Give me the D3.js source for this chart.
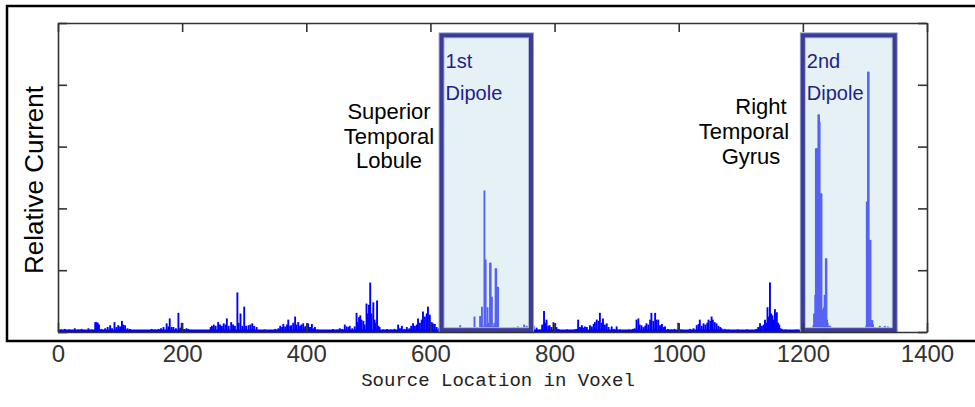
<!DOCTYPE html>
<html>
<head>
<meta charset="utf-8">
<script src="https://cdn.jsdelivr.net/npm/d3@7"></script>
<style>
    body { margin: 0; background: #fff; }
    svg { display: block; }
</style>
</head>
<body>
<svg id="chart" width="975" height="407"></svg>
<script>
// values: [voxel, relative current]
const xTicks = [0, 200, 400, 600, 800, 1000, 1200, 1400];
const yTicks = [0, 1, 2, 3, 4, 5];

const noise = [
    [5,0.04],[11,0.05],[18,0.04],[27,0.06],[33,0.04],[38,0.05],[44,0.03],[49,0.06],[55,0.04],
    [60,0.16],[62,0.16],[64,0.15],[66,0.12],[70,0.05],[76,0.06],[80,0.08],[84,0.11],[87,0.06],
    [91,0.16],[94,0.08],[97,0.11],[100,0.09],[103,0.18],[105,0.12],[108,0.11],[112,0.06],[116,0.05],
    [120,0.03],[151,0.05],[156,0.04],[162,0.05],[166,0.06],[170,0.08],[175,0.14],[178,0.09],
    [180,0.22],[183,0.08],[186,0.08],[190,0.06],[194,0.31],[197,0.07],[203,0.05],[207,0.06],
    [210,0.05],[246,0.08],[248,0.1],[251,0.12],[254,0.1],[258,0.16],[261,0.12],[264,0.1],
    [267,0.14],[270,0.12],[272,0.22],[275,0.1],[279,0.16],[282,0.12],[285,0.1],[289,0.64],
    [291,0.15],[294,0.3],[297,0.1],[300,0.41],[303,0.1],[307,0.11],[310,0.12],[313,0.14],
    [316,0.1],[320,0.08],[325,0.03],[333,0.04],[340,0.03],[350,0.05],[355,0.06],[358,0.1],
    [361,0.08],[363,0.13],[366,0.09],[369,0.12],[371,0.2],[374,0.1],[376,0.11],[379,0.15],
    [382,0.25],[384,0.12],[387,0.16],[390,0.1],[392,0.12],[395,0.14],[398,0.09],[400,0.1],
    [403,0.14],[406,0.08],[409,0.13],[412,0.06],[414,0.08],[418,0.04],[430,0.03],[443,0.05],
    [450,0.04],[454,0.06],[458,0.05],[462,0.12],[465,0.09],[468,0.08],[470,0.1],[474,0.06],
    [478,0.09],[481,0.31],[483,0.16],[485,0.24],[487,0.27],[489,0.2],[492,0.18],[494,0.12],
    [497,0.46],[499,0.3],[501,0.44],[503,0.8],[505,0.3],[508,0.48],[510,0.2],[511,0.15],
    [514,0.51],[516,0.1],[518,0.08],[524,0.04],[530,0.05],[536,0.04],[542,0.05],[548,0.12],
    [551,0.06],[554,0.1],[558,0.05],[562,0.08],[566,0.06],[569,0.1],[572,0.14],[575,0.1],
    [578,0.12],[580,0.22],[583,0.15],[586,0.2],[588,0.33],[591,0.25],[594,0.3],[596,0.41],
    [599,0.28],[602,0.16],[604,0.14],[607,0.13],[610,0.08],[614,0.06],
    [622,0.05],[628,0.04],[635,0.06],[642,0.05],[648,0.11],[656,0.05],[662,0.04],[671,0.25],
    [675,0.08],[680,0.26],[683,0.41],[685,0.1],[711,0.05],[716,0.04],[722,0.05],[728,0.04],
    [735,0.08],[741,0.09],[746,0.07],[751,0.12],[755,0.1],[758,0.08],
    [766,0.1],[771,0.07],[776,0.04],[780,0.12],[783,0.34],[785,0.15],[787,0.2],[790,0.1],
    [792,0.11],[795,0.08],[801,0.14],[803,0.08],[806,0.05],[812,0.03],[820,0.04],
    [826,0.03],[832,0.04],[835,0.05],[838,0.2],[841,0.08],[844,0.11],[846,0.07],[849,0.09],
    [852,0.08],[857,0.11],[860,0.09],[863,0.13],[865,0.16],[868,0.2],[871,0.18],[873,0.31],
    [876,0.15],[878,0.22],[881,0.12],[884,0.14],[887,0.08],[892,0.09],[896,0.05],[900,0.09],
    [905,0.04],[912,0.03],[920,0.04],[926,0.05],[929,0.06],[932,0.2],[935,0.22],[937,0.12],
    [940,0.11],[943,0.08],[946,0.1],[948,0.14],[951,0.12],[954,0.2],[956,0.31],[959,0.18],
    [962,0.31],[964,0.2],[967,0.2],[970,0.11],[973,0.13],[976,0.08],[978,0.09],[983,0.05],
    [988,0.04],[993,0.05],[1004,0.04],[1010,0.03],[1018,0.05],[1024,0.06],[1029,0.11],
    [1032,0.13],[1034,0.2],[1037,0.1],[1040,0.14],[1043,0.12],[1046,0.15],[1048,0.2],
    [1051,0.18],[1053,0.25],[1055,0.2],[1058,0.16],[1061,0.14],[1064,0.1],[1067,0.08],
    [1069,0.06],[1074,0.05],[1080,0.04],[1086,0.03],[1095,0.04],[1102,0.03],[1110,0.04],
    [1118,0.03],[1125,0.05],[1128,0.08],[1131,0.14],[1134,0.1],[1137,0.12],[1139,0.2],
    [1141,0.15],[1143,0.4],[1145,0.25],[1147,0.8],[1149,0.3],[1151,0.27],[1153,0.2],
    [1155,0.37],[1157,0.3],[1158,0.32],[1160,0.15],[1162,0.12],[1164,0.06],[1166,0.05],
    [1172,0.04],[1180,0.03],[1190,0.04],
    [1205,0.04],[1211,0.03],[1217,0.11],[1244,0.1],[1250,0.04],[1258,0.03],[1266,0.04],
    [1275,0.03],[1284,0.04],[1292,0.03],[1298,0.05],[1302,0.1],[1315,0.08],[1324,0.1],
    [1330,0.05],[1332,0.1],[1337,0.09],[1342,0.04],[1350,0.03]
];

const dipole1 = [
    [687,2.29],[688,1.17],[689,1.17],[690,0.12],[692,0.4],[694,0.15],[696,1.12],[697,1.12],
    [698,0.57],[699,0.57],[701,0.1],[703,0.15],[705,1.03],[706,1.03],[708,0.73],[709,0.73]
];

const dipole2 = [
    [1218,0.3],[1220,0.6],[1221,2.97],[1222,2.97],[1223,2.97],[1224,2.97],[1225,3.52],
    [1226,3.52],[1227,3.4],[1228,2.24],[1229,2.24],[1230,2.24],[1231,0.36],[1232,0.36],
    [1233,0.36],[1234,0.4],[1235,0.6],[1236,0.6],[1237,1.19],[1238,1.19],[1239,0.2],
    [1240,0.15],[1242,0.1],
    [1303,2.11],[1304,2.11],[1305,4.21],[1306,4.21],[1307,1.49],[1308,1.49],[1309,1.49],
    [1310,0.19],[1311,0.19],[1312,0.19],[1313,0.12]
];

const darkSpikes = [[199,0.15],[798,0.16],[999,0.15]];

const baseLevel = 0.02;
const signalEnd = 1352;

const boxStart = [618, 1200];
const boxEnd = [762, 1348];
const boxTop = 4.8;
const boxBottom = 0.03;
const boxLabels = ["1st", "2nd"];

let margin = {top: 23, right: 48, bottom: 75, left: 58};
let width = 975 - margin.left - margin.right;
let height = 407 - margin.top - margin.bottom;

let svg = d3.select("#chart");

// outer frame of the figure (right edge falls outside the picture)
svg.append("rect")
    .attr("x", 7)
    .attr("y", 6)
    .attr("width", 990)
    .attr("height", 335)
    .attr("fill", "#fff")
    .attr("stroke", "#000")
    .attr("stroke-width", 2.5);

let g = svg.append("g")
    .attr("transform", "translate(" + margin.left + "," + margin.top + ")");

let x = d3.scaleLinear().domain([0, 1400]).range([0, width]);
let y = d3.scaleLinear().domain([0, 5]).range([height, 0]);

// baseline of the trace
g.append("line")
    .attr("x1", x(0))
    .attr("x2", x(signalEnd))
    .attr("y1", y(baseLevel))
    .attr("y2", y(baseLevel))
    .attr("stroke", "#0000ff")
    .attr("stroke-width", 2.6);

let stems = noise.concat(dipole1, dipole2);

g.selectAll("line.stem")
    .data(stems)
    .join("line")
    .attr("class", "stem")
    .attr("x1", (d) => x(d[0]))
    .attr("x2", (d) => x(d[0]))
    .attr("y1", y(0))
    .attr("y2", (d) => y(d[1]))
    .attr("stroke", "#0000ff")
    .attr("stroke-width", 1.9);

g.selectAll("line.dark")
    .data(darkSpikes)
    .join("line")
    .attr("class", "dark")
    .attr("x1", (d) => x(d[0]))
    .attr("x2", (d) => x(d[0]))
    .attr("y1", y(0))
    .attr("y2", (d) => y(d[1]))
    .attr("stroke", "#222")
    .attr("stroke-width", 1.6);

// dipole boxes
let boxes = boxStart.map((s, i) => ({start: s, end: boxEnd[i], label: boxLabels[i]}));

let boxG = g.selectAll("g.box")
    .data(boxes)
    .join("g")
    .attr("class", "box");

boxG.append("rect")
    .attr("x", (d) => x(d.start))
    .attr("y", y(boxTop))
    .attr("width", (d) => x(d.end) - x(d.start))
    .attr("height", y(boxBottom) - y(boxTop))
    .attr("fill", "none")
    .attr("stroke", "#9a9ad0")
    .attr("stroke-width", 6);

boxG.append("rect")
    .attr("x", (d) => x(d.start))
    .attr("y", y(boxTop))
    .attr("width", (d) => x(d.end) - x(d.start))
    .attr("height", y(boxBottom) - y(boxTop))
    .attr("fill", "rgb(195,222,230)")
    .attr("fill-opacity", 0.44)
    .attr("stroke", "#3b3b98")
    .attr("stroke-width", 4);

boxG.append("text")
    .attr("x", (d) => x(d.start) + 4)
    .attr("y", 45)
    .attr("font-family", "Liberation Sans, Arial, sans-serif")
    .attr("font-size", 20)
    .attr("fill", "#1f1f8c")
    .text((d) => d.label);

boxG.append("text")
    .attr("x", (d) => x(d.start) + 4)
    .attr("y", 77)
    .attr("font-family", "Liberation Sans, Arial, sans-serif")
    .attr("font-size", 20)
    .attr("fill", "#1f1f8c")
    .text("Dipole");

// axes, MATLAB style ticks pointing inward
let xAxis = d3.axisBottom(x).tickValues(xTicks).tickSizeInner(-9).tickSizeOuter(0)
    .tickPadding(13).tickFormat(d3.format("d"));
let topAxis = d3.axisTop(x).tickValues(xTicks).tickSizeInner(-9).tickSizeOuter(0).tickFormat("");
let leftAxis = d3.axisLeft(y).tickValues(yTicks).tickSizeInner(-9).tickSizeOuter(0).tickFormat("");
let rightAxis = d3.axisRight(y).tickValues(yTicks).tickSizeInner(-9).tickSizeOuter(0).tickFormat("");

g.append("g").attr("class", "axis").attr("transform", "translate(0," + height + ")").call(xAxis);
g.append("g").attr("class", "axis").call(topAxis);
g.append("g").attr("class", "axis").call(leftAxis);
g.append("g").attr("class", "axis").attr("transform", "translate(" + width + ",0)").call(rightAxis);

g.selectAll(".axis path, .axis line")
    .attr("stroke", "#333")
    .attr("stroke-width", 1.6);

g.selectAll(".axis text")
    .attr("font-family", "Liberation Sans, Arial, sans-serif")
    .attr("font-size", 24)
    .attr("fill", "#333");

// axis titles
svg.append("text")
    .attr("x", 498)
    .attr("y", 386)
    .attr("text-anchor", "middle")
    .attr("font-family", "Liberation Mono, Courier New, monospace")
    .attr("font-size", 19)
    .attr("fill", "#222")
    .text("Source Location in Voxel");

svg.append("text")
    .attr("transform", "translate(43,180) rotate(-90)")
    .attr("text-anchor", "middle")
    .attr("font-family", "Liberation Sans, Arial, sans-serif")
    .attr("font-size", 26)
    .attr("fill", "#000")
    .text("Relative Current");

// region annotations
let leftNote = ["Superior", "Temporal", "Lobule"];
let rightNote = ["Right", "Temporal", "Gyrus"];
let rightNoteX = [761, 744, 751];

svg.selectAll("text.noteL")
    .data(leftNote)
    .join("text")
    .attr("class", "noteL")
    .attr("x", 389)
    .attr("y", (d, i) => [119, 143.5, 168][i])
    .attr("text-anchor", "middle")
    .attr("font-family", "Liberation Sans, Arial, sans-serif")
    .attr("font-size", 22)
    .attr("fill", "#000")
    .text((d) => d);

svg.selectAll("text.noteR")
    .data(rightNote)
    .join("text")
    .attr("class", "noteR")
    .attr("x", (d, i) => rightNoteX[i])
    .attr("y", (d, i) => [114, 139, 163.5][i])
    .attr("text-anchor", "middle")
    .attr("font-family", "Liberation Sans, Arial, sans-serif")
    .attr("font-size", 22)
    .attr("fill", "#000")
    .text((d) => d);
</script>
</body>
</html>
